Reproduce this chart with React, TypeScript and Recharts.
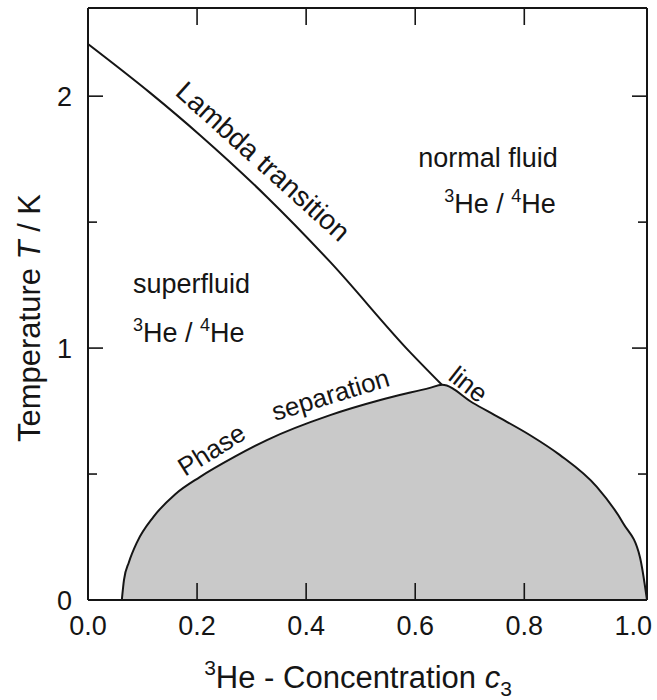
import { Area, ComposedChart, Line, XAxis, YAxis } from "recharts";

// 3He concentration ticks and temperature ticks (K)
const C_TICKS = [0, 0.2, 0.4, 0.6, 0.8, 1.0];
const T_TICKS = [0, 0.5, 1, 1.5, 2];

// lambda line, from pure 4He down to the tricritical point
const lambdaC = [0, 0.114, 0.205, 0.328, 0.444, 0.59, 0.649];
const lambdaT = [2.207, 2.013, 1.846, 1.6, 1.342, 0.985, 0.854];

// phase separation boundary, both branches joined at the tricritical point
const phaseC = [
  0.062, 0.066, 0.075, 0.09, 0.12, 0.16, 0.205, 0.27, 0.328, 0.444, 0.536,
  0.627, 0.649, 0.706, 0.755, 0.81, 0.865, 0.933, 0.981, 1.012, 1.025,
];
const phaseT = [
  0, 0.08, 0.15, 0.23, 0.33, 0.42, 0.488, 0.57, 0.635, 0.734, 0.794,
  0.842, 0.854, 0.782, 0.723, 0.655, 0.576, 0.449, 0.306, 0.171, 0,
];

const C_DOMAIN: [number, number] = [0, 1.025];
const T_DOMAIN: [number, number] = [0, 2.35];

const lambdaData = lambdaC.map((c, i) => ({ c, t: lambdaT[i] }));
const phaseData = phaseC.map((c, i) => ({ c, t: phaseT[i] }));

const W = 657;
const H = 700;
const FONT = '"Liberation Sans", Arial, Helvetica, sans-serif';
const INK = "#151515";
const X_TICK = 17;
const Y_MAJOR = 15;
const Y_MINOR = 9;

// no tick marks on the frame corners
const inner = (v: number) => v > 0 && v < 1;

function BottomTick(p: any) {
  const v = p.payload.value;
  return (
    <g>
      {inner(v) && (
        <line x1={p.x} x2={p.x} y1={p.y} y2={p.y - X_TICK} stroke={INK} strokeWidth={1.6} />
      )}
      <text x={p.x} y={p.y + 35} textAnchor="middle" fontFamily={FONT} fontSize={27} fill={INK}>
        {v.toFixed(1)}
      </text>
    </g>
  );
}

function TopTick(p: any) {
  const v = p.payload.value;
  if (!inner(v)) return <g />;
  return <line x1={p.x} x2={p.x} y1={p.y} y2={p.y + X_TICK} stroke={INK} strokeWidth={1.6} />;
}

function LeftTick(p: any) {
  const v = p.payload.value;
  const major = Number.isInteger(v);
  return (
    <g>
      {v > 0 && (
        <line
          x1={p.x}
          x2={p.x + (major ? Y_MAJOR : Y_MINOR)}
          y1={p.y}
          y2={p.y}
          stroke={INK}
          strokeWidth={1.6}
        />
      )}
      {major && (
        <text x={p.x - 16} y={p.y + 10} textAnchor="end" fontFamily={FONT} fontSize={27} fill={INK}>
          {v}
        </text>
      )}
    </g>
  );
}

function RightTick(p: any) {
  const v = p.payload.value;
  if (v <= 0) return <g />;
  const len = Number.isInteger(v) ? Y_MAJOR : Y_MINOR;
  return <line x1={p.x} x2={p.x - len} y1={p.y} y2={p.y} stroke={INK} strokeWidth={1.6} />;
}

function HeMix({ x, y, anchor }: { x: number; y: number; anchor: "start" | "middle" }) {
  return (
    <text x={x} y={y} textAnchor={anchor}>
      <tspan fontSize={18} dy={-11}>3</tspan>
      <tspan dy={11}>{"He / "}</tspan>
      <tspan fontSize={18} dy={-11}>4</tspan>
      <tspan dy={11}>He</tspan>
    </text>
  );
}

const yTitle = () => (
  <text
    x={40}
    y={318}
    transform="rotate(-90 40 318)"
    textAnchor="middle"
    fontFamily={FONT}
    fontSize={31}
    fill={INK}
  >
    Temperature <tspan fontStyle="italic">T</tspan> / K
  </text>
);

const xTitle = () => (
  <text x={358} y={688} textAnchor="middle" fontFamily={FONT} fontSize={31} fill={INK}>
    <tspan fontSize={21} dy={-13}>3</tspan>
    <tspan dy={13}>{"He - Concentration "}</tspan>
    <tspan fontStyle="italic">c</tspan>
    <tspan fontSize={21} dy={8}>3</tspan>
  </text>
);

export default function App() {
  const axisLine = { stroke: INK, strokeWidth: 2 };
  return (
    <div style={{ position: "absolute", left: 0, top: 0, width: W, height: H, background: "#fff" }}>
      <ComposedChart
        width={W}
        height={H}
        data={phaseData}
        margin={{ top: 0, right: 0, bottom: 0, left: 0 }}
      >
        <XAxis
          xAxisId="b"
          dataKey="c"
          type="number"
          domain={C_DOMAIN}
          ticks={C_TICKS}
          interval={0}
          allowDataOverflow
          height={100}
          tickSize={0}
          tickMargin={0}
          tickLine={false}
          axisLine={axisLine}
          tick={(p: any) => <BottomTick {...p} />}
          label={xTitle}
        />
        <XAxis
          xAxisId="t"
          orientation="top"
          dataKey="c"
          type="number"
          domain={C_DOMAIN}
          ticks={C_TICKS}
          interval={0}
          allowDataOverflow
          height={8}
          tickSize={0}
          tickMargin={0}
          tickLine={false}
          axisLine={axisLine}
          tick={(p: any) => <TopTick {...p} />}
        />
        <YAxis
          yAxisId="l"
          type="number"
          domain={T_DOMAIN}
          ticks={T_TICKS}
          interval={0}
          allowDataOverflow
          width={88}
          tickSize={0}
          tickMargin={0}
          tickLine={false}
          axisLine={axisLine}
          tick={(p: any) => <LeftTick {...p} />}
          label={yTitle}
        />
        <YAxis
          yAxisId="r"
          orientation="right"
          type="number"
          domain={T_DOMAIN}
          ticks={T_TICKS}
          interval={0}
          allowDataOverflow
          width={10}
          tickSize={0}
          tickMargin={0}
          tickLine={false}
          axisLine={axisLine}
          tick={(p: any) => <RightTick {...p} />}
        />
        <Area
          xAxisId="b"
          yAxisId="l"
          dataKey="t"
          type="monotone"
          fill="#c9c9c9"
          fillOpacity={1}
          stroke={INK}
          strokeWidth={2}
          isAnimationActive={false}
          dot={false}
          activeDot={false}
        />
        <Line
          xAxisId="b"
          yAxisId="l"
          data={lambdaData}
          dataKey="t"
          type="monotone"
          stroke={INK}
          strokeWidth={2}
          dot={false}
          activeDot={false}
          isAnimationActive={false}
        />
      </ComposedChart>
      <svg
        width={W}
        height={H}
        style={{ position: "absolute", left: 0, top: 0, pointerEvents: "none" }}
      >
        <g fontFamily={FONT} fontSize={27} fill={INK}>
          <text x={488} y={167} textAnchor="middle">normal fluid</text>
          <HeMix x={500} y={213} anchor="middle" />
          <text x={133} y={293}>superfluid</text>
          <HeMix x={133} y={342} anchor="start" />
          <text x={174} y={94} fontSize={28} transform="rotate(42 174 94)">
            Lambda transition
          </text>
          <text x={447} y={379} fontSize={26} transform="rotate(38 447 379)">
            line
          </text>
          <text x={185} y={477} fontSize={26} transform="rotate(-32 185 477)">
            Phase
          </text>
          <text x={275} y={421} fontSize={26} transform="rotate(-17 275 421)">
            separation
          </text>
        </g>
      </svg>
    </div>
  );
}
